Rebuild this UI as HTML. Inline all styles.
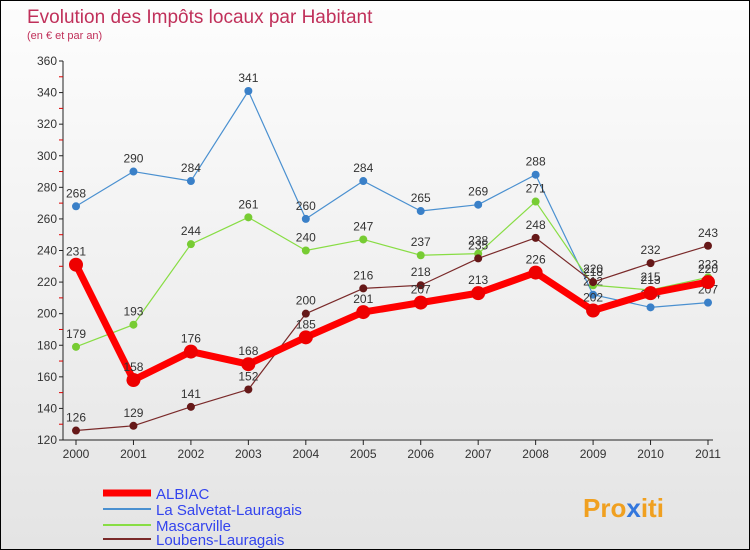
<!DOCTYPE html>
<html><head><meta charset="utf-8"><style>
body{margin:0;}
#c{width:750px;height:550px;position:relative;overflow:hidden;font-family:"Liberation Sans",sans-serif;background:linear-gradient(#fdfdfd,#e4e4e4);box-sizing:border-box;border:1px solid #000;}
</style></head><body>
<div id="c">
<svg id="s" width="750" height="550" style="position:absolute;left:0;top:0">
<text x="26" y="22" font-size="19" fill="#c0305a">Evolution des Impôts locaux par Habitant</text>
<text x="26" y="38" font-size="11" fill="#c0305a">(en € et par an)</text>
<g id="axes"></g><g id="series"></g>
<g>
<line x1="102" y1="492" x2="150" y2="492" stroke="#f00" stroke-width="7"/>
<text x="155" y="498" font-size="15" fill="#3344ee">ALBIAC</text>
<line x1="102" y1="508" x2="150" y2="508" stroke="#4a90d0" stroke-width="2"/>
<text x="155" y="514" font-size="15" fill="#3344ee">La Salvetat-Lauragais</text>
<line x1="102" y1="524" x2="150" y2="524" stroke="#88dd44" stroke-width="2"/>
<text x="155" y="530" font-size="15" fill="#3344ee">Mascarville</text>
<line x1="102" y1="538" x2="150" y2="538" stroke="#7a2a2a" stroke-width="2"/>
<text x="155" y="544" font-size="15" fill="#3344ee">Loubens-Lauragais</text>
</g>
<text x="582" y="516" font-size="26" font-weight="bold" fill="#f0a020">Pro<tspan fill="#3377dd">x</tspan>iti</text>
</svg>
</div>
<script>
const years=["2000","2001","2002","2003","2004","2005","2006","2007","2008","2009","2010","2011"];
const albiac=[231,158,176,168,185,201,207,213,226,202,213,220];
const salvetat=[268,290,284,341,260,284,265,269,288,212,204,207];
const mascarville=[179,193,244,261,240,247,237,238,271,218,215,223];
const loubens=[126,129,141,152,200,216,218,235,248,220,232,243];
const yTicks=[120,140,160,180,200,220,240,260,280,300,320,340,360];
const NS="http://www.w3.org/2000/svg";
const X=i=>75+i*(707-75)/11;
const Y=v=>439-(v-120)*(379/240);
function mk(t,a,p){const e=document.createElementNS(NS,t);for(const k in a)e.setAttribute(k,a[k]);p.appendChild(e);return e;}
const ax=document.getElementById('axes');
const yl=mk('line',{x1:62,y1:60,x2:62,y2:439,stroke:'#222'},ax);


const xl=mk('line',{x1:62,y1:439,x2:712,y2:439,stroke:'#222'},ax);


yTicks.forEach(v=>{
 mk('line',{x1:58,y1:Y(v),x2:62,y2:Y(v),stroke:'#222'},ax);
 if(v<360)mk('line',{x1:58,y1:Y(v+10),x2:62,y2:Y(v+10),stroke:'#d00'},ax);
 const t=mk('text',{x:56,y:Y(v)+4,'font-size':12,fill:'#333','text-anchor':'end'},ax);t.textContent=v;
 
 
});
years.forEach((y,i)=>{
 mk('line',{x1:X(i),y1:439,x2:X(i),y2:444,stroke:'#222'},ax);
 const t=mk('text',{x:X(i),y:457,'font-size':12,fill:'#333','text-anchor':'middle'},ax);t.textContent=y;
 
 
});
const sg=document.getElementById('series');
function series(name,data,color,w,r,dot){
 const g=mk('g',{},sg);
 
 
 mk('polyline',{points:data.map((v,i)=>X(i)+','+Y(v)).join(' '),fill:'none',stroke:color,'stroke-width':w,'stroke-linejoin':'round'},g);
 data.forEach((v,i)=>{
  const c=mk('circle',{cx:X(i),cy:Y(v),r:r,fill:dot},g);
  
  
  const t=mk('text',{x:X(i),y:Y(v)-9,'font-size':12,fill:'#333','text-anchor':'middle'},g);t.textContent=v;
  
  
 });
}
series('salvetat',salvetat,'#4a90d0',1.2,4,'#3a80c8');
series('mascarville',mascarville,'#88dd44',1.2,4,'#77cc33');
series('loubens',loubens,'#7a2a2a',1.2,4,'#661818');
series('albiac',albiac,'#ff0000',7,7,'#ee0000');
</script>
</body></html>
